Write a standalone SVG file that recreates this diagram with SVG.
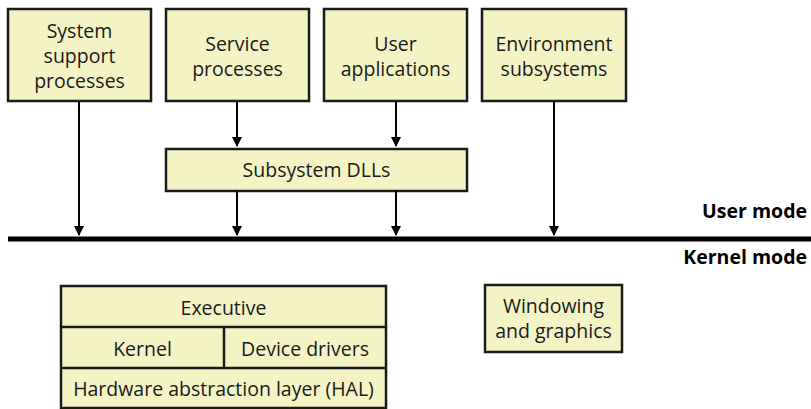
<svg xmlns="http://www.w3.org/2000/svg" width="811" height="409" viewBox="0 0 811 409">
<style>
.box{fill:#f3f3c4;stroke:#1a1a1a;stroke-width:2.5}
.t{font-family:"Open Sans","Noto Sans",sans-serif;font-size:19.5px;fill:#1a1a1a;text-anchor:middle}
.b{font-family:"Open Sans","Noto Sans",sans-serif;font-size:19.5px;font-weight:bold;fill:#000;text-anchor:end}
.c{stroke:#000;stroke-width:2;fill:none;marker-end:url(#ah)}
</style>
<defs>
<marker id="ah" markerUnits="userSpaceOnUse" markerWidth="10" markerHeight="10" viewBox="0 0 10 10" refX="9" refY="5" orient="auto">
<path d="M0,0 L10,5 L0,10 Z" fill="#000"/>
</marker>
</defs>
<rect width="811" height="409" fill="#fff"/>
<g id="sys-support">
<rect class="box" x="8" y="9" width="143" height="92"/>
<text class="t" x="79.5" y="38">System</text>
<text class="t" x="79.5" y="63">support</text>
<text class="t" x="79.5" y="88">processes</text>
</g>
<g id="service">
<rect class="box" x="166" y="9" width="143" height="92"/>
<text class="t" x="237.5" y="51">Service</text>
<text class="t" x="237.5" y="76">processes</text>
</g>
<g id="user-apps">
<rect class="box" x="324" y="9" width="143" height="92"/>
<text class="t" x="395.5" y="51">User</text>
<text class="t" x="395.5" y="76">applications</text>
</g>
<g id="env-subsys">
<rect class="box" x="482" y="9" width="144" height="92"/>
<text class="t" x="554" y="51">Environment</text>
<text class="t" x="554" y="76">subsystems</text>
</g>
<g id="subsys-dlls">
<rect class="box" x="166" y="149" width="301" height="42"/>
<text class="t" x="316.5" y="177">Subsystem DLLs</text>
</g>
<g id="mode-line">
<line x1="8" y1="239" x2="811" y2="239" stroke="#000" stroke-width="5"/>
<text class="b" x="807" y="218">User mode</text>
<text class="b" x="807" y="264">Kernel mode</text>
</g>
<g id="connectors">
<line class="c" x1="237" y1="101" x2="237" y2="146"/>
<line class="c" x1="396" y1="101" x2="396" y2="146"/>
<line class="c" x1="79" y1="101" x2="79" y2="235"/>
<line class="c" x1="237" y1="191" x2="237" y2="235"/>
<line class="c" x1="396" y1="191" x2="396" y2="235"/>
<line class="c" x1="554" y1="101" x2="554" y2="235"/>
</g>
<g id="kernel-stack">
<rect class="box" x="61" y="286" width="325" height="122"/>
<line x1="61" y1="327" x2="386" y2="327" stroke="#1a1a1a" stroke-width="2.5"/>
<line x1="61" y1="368" x2="386" y2="368" stroke="#1a1a1a" stroke-width="2.5"/>
<line x1="224" y1="327" x2="224" y2="368" stroke="#1a1a1a" stroke-width="2.5"/>
<text class="t" x="223.5" y="315">Executive</text>
<text class="t" x="142.5" y="356">Kernel</text>
<text class="t" x="305" y="356">Device drivers</text>
<text class="t" x="223.5" y="396">Hardware abstraction layer (HAL)</text>
</g>
<g id="windowing">
<rect class="box" x="485" y="285" width="137" height="67"/>
<text class="t" x="553.5" y="313">Windowing</text>
<text class="t" x="553.5" y="338">and graphics</text>
</g>
</svg>
